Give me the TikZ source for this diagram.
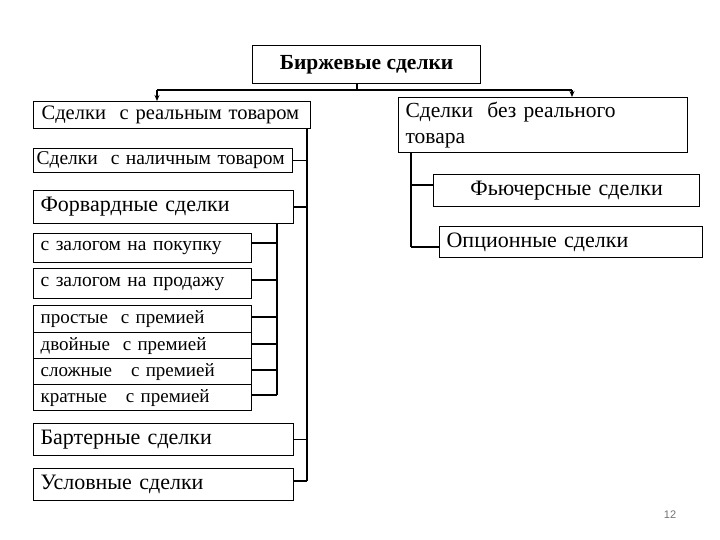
\documentclass[tikz,border=0pt]{standalone}
\usepackage{fontspec}
\setmainfont{Liberation Serif}
\newfontfamily\pgnum{Liberation Sans}
\usetikzlibrary{arrows.meta}
\tikzset{
  box/.style={draw, line width=1.2pt, rectangle, anchor=north west, inner xsep=7pt, inner ysep=0pt,
    font=\fontsize{22}{23}\selectfont, align=left},
  mid/.style={box, font=\fontsize{19.5}{20}\selectfont},
  row/.style={box, font=\fontsize{19}{20}\selectfont},
  wire/.style={line width=1.2pt},
  arr/.style={line width=1.2pt, -{Stealth[length=6pt,width=5pt]}}
}
\newcommand{\bx}[7][box]{\node[#1, minimum width=#4pt, text width=#4pt-14pt, minimum height=#5pt] (#2) at (#3) {#6#7};}
\begin{document}
\begin{tikzpicture}[x=1pt,y=-1pt]
\useasboundingbox (0,0) rectangle (720,540);
% top
\node[box, align=center, minimum width=228pt, minimum height=38pt, font=\fontsize{21.5}{22}\selectfont\bfseries] (top) at (252,45) {Биржевые сделки};
% left
\node[box, inner xsep=3pt, font=\fontsize{20.5}{22}\selectfont, minimum width=277pt, text width=271pt, minimum height=27pt] (real) at (33,101) {\hspace{5pt}Сделки\ \ с реальным товаром};
\node[mid, inner xsep=3pt, minimum width=259pt, text width=253pt, minimum height=24pt] (cash) at (33,148) {Сделки\ \ с наличным товаром};
\bx{fwd}{33,190}{260}{33}{}{Форвардные сделки}
\bx[mid]{buy}{33,233}{218}{29}{}{с залогом на покупку}
\bx[mid]{sell}{33,268}{218}{30}{}{с залогом на продажу}
\bx[row]{p1}{33,305}{218}{27}{}{простые\ \ с премией}
\bx[row]{p2}{33,332}{218}{26}{}{двойные\ \ с премией}
\bx[row]{p3}{33,358}{218}{26}{}{сложные\ \ \ с премией}
\bx[row]{p4}{33,384}{218}{26}{}{кратные\ \ \ с премией}
\bx{bart}{33,423}{260}{32}{}{Бартерные сделки}
\bx{cond}{33,468}{260}{32}{}{Условные сделки}
% right
\node[box, minimum width=289pt, text width=275pt, minimum height=55pt, font=\fontsize{21.5}{26}\selectfont] (nreal) at (398,97) {Сделки\ \ без реального\\товара};
\node[box, align=center, minimum width=266pt, text width=252pt, minimum height=32pt] (fut) at (433,174) {Фьючерсные сделки};
\bx{opt}{439,226}{263}{31}{}{Опционные сделки}
% connectors
\coordinate (hub) at (357,90);
\coordinate (hl) at (157,90);
\coordinate (hr) at (572,90);
\draw[wire] (top.south -| hub) -- (hub);
\draw[wire] (hl) -- (hr);
\draw[arr] (hl) -- (hl |- real.north);
\draw[arr] (hr) -- (hr |- nreal.north);
% main left trunk
\coordinate (mt) at (307,128);
\coordinate (mb) at (307,481);
\draw[wire] (mt) -- (mb);
\draw[wire] (cash.east) coordinate (ce) -- (ce -| mt);
\draw[wire] (fwd.east) coordinate (fe) -- (fe -| mt);
\draw[wire] (bart.east) coordinate (be) -- (be -| mt);
\draw[wire] (cond.east |- mb) -- (mb);
% forward sub trunk
\coordinate (st) at (277,223);
\coordinate (sb) at (277,395);
\draw[wire] (st) -- (sb);
\draw[wire] (buy.east |- 0,243) -- (st |- 0,243);
\draw[wire] (sell.east |- 0,280) -- (st |- 0,280);
\draw[wire] (p1.east |- 0,317) -- (st |- 0,317);
\draw[wire] (p2.east |- 0,344) -- (st |- 0,344);
\draw[wire] (p3.east |- 0,370) -- (st |- 0,370);
\draw[wire] (p4.east |- sb) -- (sb);
% right trunk
\coordinate (rt) at (411,152);
\coordinate (rb) at (411,247);
\draw[wire] (rt) -- (rb);
\draw[wire] (rt |- 0,185) -- (fut.west |- 0,185);
\draw[wire] (rb) -- (opt.west |- rb);
% page number
\node[font=\pgnum\fontsize{11}{12}\selectfont, text=black!55] (pg) at (670,515) {12};
\end{tikzpicture}
\end{document}
